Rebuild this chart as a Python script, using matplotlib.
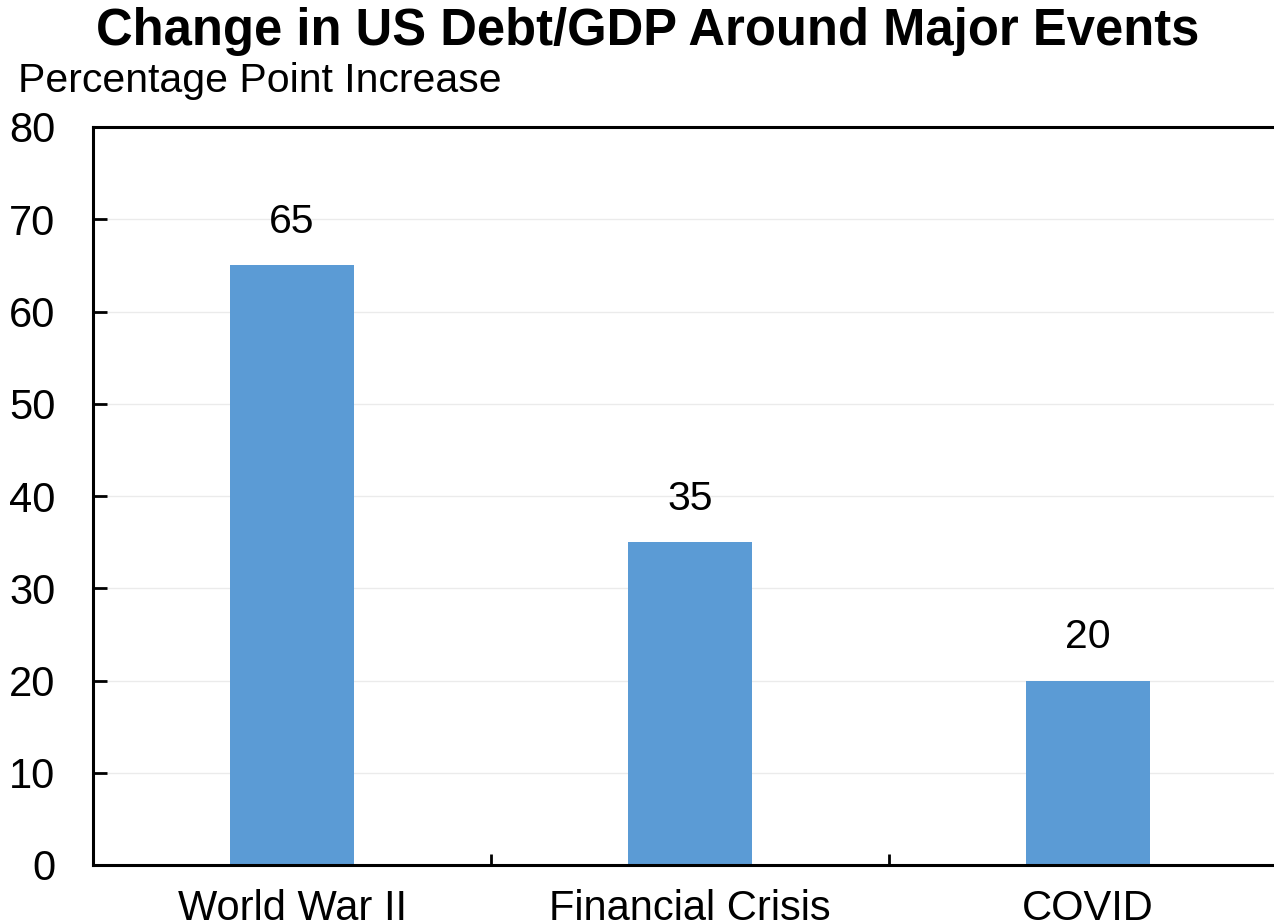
import matplotlib
matplotlib.use("Agg")
import matplotlib.pyplot as plt

events = ["World War II", "Financial Crisis", "COVID"]
increase = [65, 35, 20]
yticks = [0, 10, 20, 30, 40, 50, 60, 70, 80]

plt.rcParams["font.family"] = ["Liberation Sans", "DejaVu Sans"]

fig = plt.figure(figsize=(12.74, 9.24), dpi=100)
ax = fig.add_axes([93 / 1274, 59 / 924, 1194 / 1274, 738 / 924])

x = range(len(events))
ax.bar(x, increase, width=0.31, color="#5B9BD5", zorder=2)
for xi, v in zip(x, increase):
    ax.text(xi, v + 4.7, str(v), ha="center", va="center", fontsize=29.5)

ax.set_xlim(-0.5, len(events) - 0.5)
ax.set_ylim(0, 80)
ax.set_yticks(yticks)
ax.set_yticklabels([str(t) for t in yticks], fontsize=30)
ax.set_xticks([0.5, 1.5])
ax.set_xticklabels([])
ax.set_xticks(list(x), minor=True)
ax.set_xticklabels(events, minor=True, fontsize=30)
ax.tick_params(axis="x", which="minor", length=0, pad=17)
ax.tick_params(axis="x", which="major", direction="in", length=8, width=2)
ax.tick_params(axis="y", direction="in", length=10, width=2, pad=27)

ax.grid(axis="y", color="#ebebeb", linewidth=1, zorder=0)
for side in ["left", "bottom", "top"]:
    ax.spines[side].set_linewidth(2.2)
ax.spines["right"].set_visible(False)

fig.text(0.508, 0.966, "Change in US Debt/GDP Around Major Events", ha="center",
         va="center", fontsize=36.5, fontweight="bold")
fig.text(0.014, 0.912, "Percentage Point Increase", ha="left", va="center", fontsize=29.5)

fig.savefig("out.png", dpi=100)
